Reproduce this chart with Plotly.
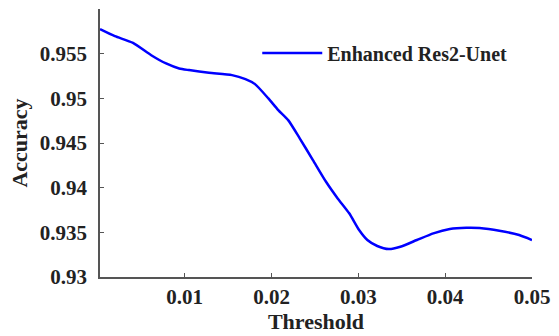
import plotly.graph_objects as go

# Accuracy versus segmentation threshold
threshold = [0.00025, 0.00196, 0.00405, 0.00615, 0.00786, 0.00937, 0.0105, 0.0128,
             0.01545, 0.0170, 0.0181, 0.01964, 0.02078, 0.02192, 0.02325, 0.02477,
             0.02628, 0.02762, 0.02895, 0.03009, 0.03104, 0.03218, 0.03351, 0.03484,
             0.03674, 0.03864, 0.04054, 0.04244, 0.04396, 0.04624, 0.04852, 0.05]
accuracy = [0.95774, 0.95696, 0.95621, 0.95483, 0.95390, 0.95334, 0.95316, 0.95286,
            0.95260, 0.95215, 0.95159, 0.94999, 0.94868, 0.94756, 0.94552, 0.94309,
            0.94066, 0.93880, 0.93713, 0.93526, 0.93414, 0.93347, 0.93313, 0.93339,
            0.93414, 0.93489, 0.93537, 0.93551, 0.93548, 0.93518, 0.93470, 0.93414]

x_ticks = [0.01, 0.02, 0.03, 0.04, 0.05]
x_tick_text = ["0.01", "0.02", "0.03", "0.04", "0.05"]
y_ticks = [0.93, 0.935, 0.94, 0.945, 0.95, 0.955]
y_tick_text = ["0.93", "0.935", "0.94", "0.945", "0.95", "0.955"]

FONT = "'Liberation Serif', 'Times New Roman', serif"
AXIS_COLOR = "#555555"
TEXT_COLOR = "#222222"

fig = go.Figure()
fig.add_trace(go.Scatter(
    x=threshold, y=accuracy, mode="lines", name="<b>Enhanced Res2-Unet</b>",
    line=dict(color="#0000FF", width=2.5, shape="spline", smoothing=0.6),
))

axis_common = dict(
    showgrid=False, zeroline=False, showline=True, linecolor=AXIS_COLOR,
    linewidth=1.5, ticks="inside", ticklen=4, tickcolor=AXIS_COLOR,
    mirror=False,
)

fig.update_layout(
    width=559, height=336,
    margin=dict(l=100, r=21, t=9, b=59),
    paper_bgcolor="white", plot_bgcolor="white",
    font=dict(family=FONT, color=TEXT_COLOR),
    xaxis=dict(
        range=[0.00025, 0.05], tickvals=x_ticks,
        ticktext=[f"<b>{t}</b>" for t in x_tick_text],
        tickfont=dict(family=FONT, size=21, color=TEXT_COLOR),
        title=dict(text="<b>Threshold</b>", font=dict(family=FONT, size=22, color=TEXT_COLOR),
                   standoff=2),
        **axis_common,
    ),
    yaxis=dict(
        range=[0.93, 0.96], tickvals=y_ticks,
        ticktext=[f"<b>{t}</b>" for t in y_tick_text],
        tickfont=dict(family=FONT, size=21, color=TEXT_COLOR),
        ticklabelstandoff=7,
        title=dict(text="<b>Accuracy</b>", font=dict(family=FONT, size=22, color=TEXT_COLOR),
                   standoff=6),
        **axis_common,
    ),
    legend=dict(
        x=0.364, y=0.836, xanchor="left", yanchor="middle",
        bgcolor="rgba(0,0,0,0)", borderwidth=0, itemwidth=60,
        font=dict(family=FONT, size=20, color=TEXT_COLOR),
    ),
    showlegend=True,
)

fig.write_html("out.html")
